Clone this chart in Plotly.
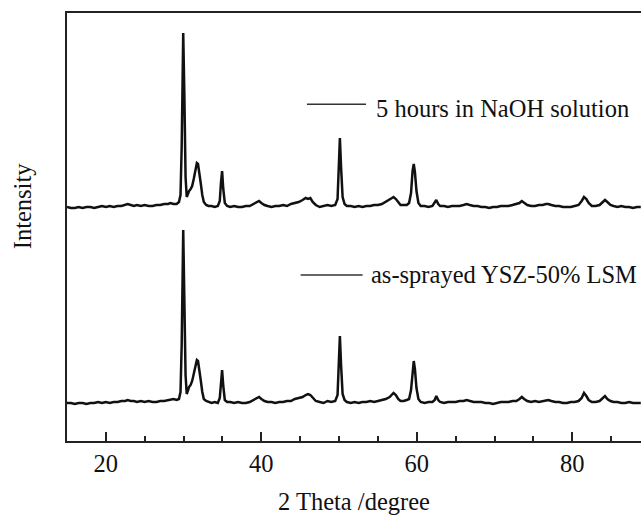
import plotly.graph_objects as go

# 2-theta grid (degrees)
two_theta = [
    15.0, 15.5, 16.0, 16.5, 17.0, 17.5, 18.0, 18.5, 19.0, 19.5,
    20.0, 20.5, 21.0, 21.5, 22.0, 22.5, 22.8, 23.2, 23.6, 24.0,
    24.5, 25.0, 25.5, 26.0, 26.5, 27.0, 27.5, 28.0, 28.3, 28.7,
    29.1, 29.4, 29.6, 29.75, 29.95, 30.1, 30.25, 30.4, 30.55, 30.7,
    30.9, 31.1, 31.3, 31.5, 31.7, 31.85, 32.0, 32.2, 32.4, 32.6,
    32.9, 33.2, 33.6, 34.0, 34.4, 34.65, 34.8, 34.95, 35.1, 35.3,
    35.6, 36.0, 36.5, 37.0, 37.5, 38.0, 38.5, 39.0, 39.4, 39.7,
    40.0, 40.4, 40.8, 41.3, 41.8, 42.3, 42.8, 43.3, 43.8, 44.3,
    44.8, 45.3, 45.7, 46.0, 46.3, 46.6, 47.0, 47.5, 48.0, 48.5,
    49.0, 49.5, 49.8, 49.95, 50.1, 50.25, 50.45, 50.7, 51.0, 51.5,
    52.0, 52.5, 53.0, 53.5, 54.0, 54.5, 55.0, 55.5, 56.0, 56.5,
    56.8, 57.0, 57.3, 57.6, 57.9, 58.3, 58.7, 59.0, 59.25, 59.45,
    59.6, 59.75, 59.95, 60.2, 60.5, 61.0, 61.5, 62.0, 62.3, 62.5,
    62.75, 63.0, 63.5, 64.0, 64.5, 65.0, 65.5, 66.0, 66.4, 66.8,
    67.3, 67.8, 68.3, 68.8, 69.3, 69.8, 70.3, 70.8, 71.3, 71.8,
    72.3, 72.8, 73.2, 73.5, 73.8, 74.2, 74.7, 75.2, 75.7, 76.2,
    76.6, 76.9, 77.3, 77.8, 78.3, 78.8, 79.3, 79.8, 80.3, 80.8,
    81.2, 81.5, 81.8, 82.1, 82.5, 83.0, 83.5, 83.9, 84.2, 84.5,
    84.9, 85.3, 85.8, 86.3, 86.8, 87.3, 87.8, 88.3, 88.8,
]

# Intensity (a.u.) after 5 hours in NaOH solution
intensity_naoh = [
    20, 19, 19, 20, 19, 20, 20, 19, 20, 21,
    20, 21, 20, 21, 21, 22, 23, 22, 21, 22,
    21, 22, 21, 21, 22, 22, 23, 23, 24, 23,
    23, 25, 32, 80, 194, 130, 50, 30, 34, 36,
    38, 41, 48, 58, 64, 63, 56, 44, 32, 25,
    22, 21, 21, 20, 21, 26, 44, 56, 38, 24,
    21, 20, 21, 20, 20, 21, 21, 23, 25, 26,
    24, 22, 21, 20, 21, 21, 22, 21, 23, 24,
    25, 27, 29, 28, 29, 25, 22, 20, 21, 22,
    21, 22, 28, 60, 89, 60, 30, 23, 21, 21,
    20, 21, 20, 21, 21, 22, 22, 23, 25, 27,
    29, 30, 28, 25, 22, 22, 22, 24, 34, 56,
    63, 55, 36, 24, 21, 21, 20, 21, 24, 27,
    23, 21, 21, 20, 21, 21, 21, 22, 23, 22,
    21, 21, 20, 20, 19, 20, 20, 21, 21, 21,
    22, 23, 24, 26, 24, 22, 21, 21, 22, 22,
    23, 23, 22, 21, 21, 20, 20, 20, 21, 22,
    26, 30, 28, 24, 21, 21, 22, 25, 27, 25,
    22, 21, 20, 21, 20, 20, 19, 20, 20,
]

# Intensity (a.u.) of as-sprayed YSZ-50% LSM
intensity_sprayed = [
    20, 20, 19, 20, 20, 19, 20, 20, 21, 20,
    21, 20, 21, 21, 22, 22, 23, 22, 22, 21,
    22, 21, 22, 21, 21, 22, 22, 23, 23, 24,
    23, 24, 31, 78, 193, 125, 48, 29, 33, 36,
    38, 42, 49, 57, 63, 62, 55, 43, 31, 24,
    22, 21, 20, 21, 20, 25, 42, 53, 37, 23,
    21, 21, 20, 21, 20, 20, 21, 23, 24, 26,
    24, 22, 21, 21, 20, 21, 21, 22, 22, 24,
    25, 26, 28, 29, 28, 25, 22, 21, 20, 22,
    21, 22, 28, 58, 87, 58, 29, 23, 21, 20,
    21, 20, 21, 21, 22, 21, 22, 23, 24, 26,
    28, 30, 28, 24, 22, 22, 23, 24, 33, 55,
    62, 54, 35, 24, 21, 20, 21, 21, 23, 27,
    23, 21, 20, 21, 21, 21, 22, 22, 23, 22,
    21, 21, 21, 20, 20, 19, 20, 21, 21, 21,
    22, 22, 24, 26, 24, 22, 21, 22, 21, 22,
    23, 23, 22, 21, 21, 20, 20, 21, 21, 22,
    25, 30, 27, 23, 21, 21, 22, 25, 27, 24,
    22, 21, 21, 20, 20, 21, 20, 20, 20,
]

series_names = ["5 hours in NaOH solution", "as-sprayed YSZ-50% LSM"]

# vertical stacking offsets for the two patterns
offset_naoh = 214
offset_sprayed = 18

FONT = "Liberation Serif, Times New Roman, serif"
FS = 24.5

fig = go.Figure()
fig.add_trace(go.Scatter(
    x=two_theta, y=[v + offset_naoh for v in intensity_naoh],
    mode="lines", line=dict(color="#111111", width=2.5),
    name=series_names[0], showlegend=False))
fig.add_trace(go.Scatter(
    x=two_theta, y=[v + offset_sprayed for v in intensity_sprayed],
    mode="lines", line=dict(color="#111111", width=2.5),
    name=series_names[1], showlegend=False))

# in-plot labels with short line keys
labels = [
    dict(text=series_names[0], line_x=(0.418, 0.521), line_y=0.787, text_x=0.535, text_y=0.777),
    dict(text=series_names[1], line_x=(0.407, 0.515), line_y=0.388, text_x=0.527, text_y=0.389),
]
for lb in labels:
    fig.add_shape(type="line", xref="paper", yref="paper",
                  x0=lb["line_x"][0], x1=lb["line_x"][1], y0=lb["line_y"], y1=lb["line_y"],
                  line=dict(color="#333333", width=1.5))
    fig.add_annotation(xref="paper", yref="paper", x=lb["text_x"], y=lb["text_y"],
                       text=lb["text"], showarrow=False, xanchor="left", yanchor="middle",
                       font=dict(family=FONT, size=FS, color="#111111"))

fig.add_annotation(xref="paper", yref="paper", x=-0.078, y=0.549, text="Intensity",
                   showarrow=False, textangle=-90, xanchor="center", yanchor="middle",
                   font=dict(family=FONT, size=FS, color="#111111"))

fig.update_layout(
    width=641, height=515,
    margin=dict(l=67, r=0, t=13, b=74),
    paper_bgcolor="white", plot_bgcolor="white",
    font=dict(family=FONT, size=FS, color="#111111"),
    xaxis=dict(
        range=[15, 88.83], tickmode="linear", tick0=0, dtick=20,
        ticks="inside", ticklen=9, tickwidth=1.5,
        tickcolor="#222222", showline=True, linecolor="#222222", linewidth=2,
        mirror=True, showgrid=False, zeroline=False,
        minor=dict(dtick=5, tick0=0, ticks="inside", ticklen=5, tickwidth=1.5,
                   tickcolor="#222222", showgrid=False),
        title=dict(text="2 Theta /degree", standoff=19,
                   font=dict(family=FONT, size=FS, color="#111111")),
        tickfont=dict(family=FONT, size=FS, color="#111111"),
    ),
    yaxis=dict(
        range=[0, 428], showticklabels=False, ticks="", showline=True,
        linecolor="#222222", linewidth=2, showgrid=False, zeroline=False,
    ),
)

fig.write_html(
    "out.html",
    config={"displayModeBar": False},
    post_script="document.body.style.margin='0';document.body.style.overflow='hidden';",
)
